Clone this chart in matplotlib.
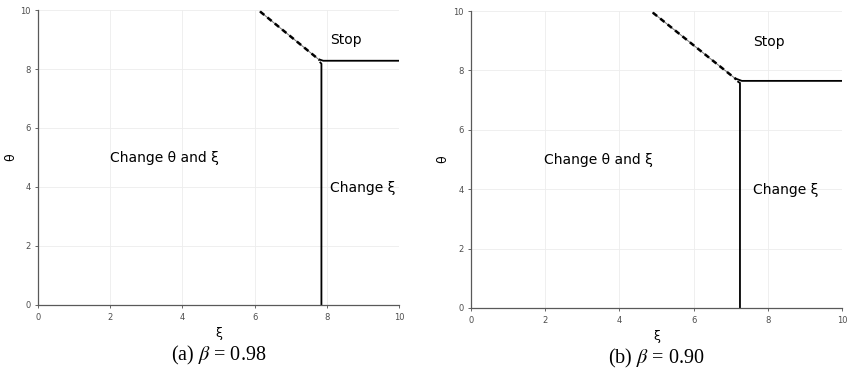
import matplotlib
matplotlib.use("Agg")
import matplotlib.pyplot as plt

plt.rcParams['font.family'] = 'DejaVu Sans'
plt.rcParams['mathtext.fontset'] = 'stix'

# boundary curves for the two discount factors
panels = ["(a)", "(b)"]
betas = ["0.98", "0.90"]
# dashed part of the stopping boundary (xi, theta)
dash_xi = [[6.15, 7.8], [4.9, 7.15]]
dash_theta = [[9.95, 8.3], [9.95, 7.7]]
# horizontal part of the stopping boundary
stop_xi = [[7.8, 7.9, 10.0], [7.15, 7.3, 10.0]]
stop_theta = [[8.32, 8.28, 8.28], [7.72, 7.65, 7.65]]
# vertical boundary between change-both and change-xi
vert_xi = [[7.82, 7.85, 7.85], [7.2, 7.25, 7.25]]
vert_theta = [[8.22, 8.18, 0.0], [7.62, 7.58, 0.0]]

# label positions
stop_pos = [(8.1, 9.0), (7.6, 8.95)]
both_pos = [(2.0, 4.98), (1.97, 4.98)]
xi_pos = [(8.1, 3.97), (7.6, 3.97)]

fig = plt.figure(figsize=(8.51, 3.71), dpi=100)
rects = [[0.0447, 0.178, 0.4242, 0.795], [0.5535, 0.170, 0.4359, 0.800]]
ylab_x = [-0.058, -0.058]

for i in range(2):
    ax = fig.add_axes(rects[i])
    ax.plot(dash_xi[i], dash_theta[i], color='0.45', lw=0.7, zorder=2)
    ax.plot(dash_xi[i], dash_theta[i], color='black', lw=1.8, ls=(0, (2.2, 1.6)), zorder=3)
    ax.plot(stop_xi[i], stop_theta[i], color='black', lw=1.3)
    ax.plot(vert_xi[i], vert_theta[i], color='black', lw=1.3)
    ax.text(stop_pos[i][0], stop_pos[i][1], "Stop", fontsize=10, va='center')
    ax.text(both_pos[i][0], both_pos[i][1], "Change θ and ξ", fontsize=10, va='center')
    ax.text(xi_pos[i][0], xi_pos[i][1], "Change ξ", fontsize=10, va='center')
    ax.set_xlim(0, 10)
    ax.set_ylim(0, 10)
    ax.set_xticks([0, 2, 4, 6, 8, 10])
    ax.set_yticks([0, 2, 4, 6, 8, 10])
    ax.tick_params(labelsize=6, colors='0.3', length=2, width=0.6)
    ax.grid(True, color='0.93', lw=0.6)
    for s in ['top', 'right']:
        ax.spines[s].set_visible(False)
    for s in ['left', 'bottom']:
        ax.spines[s].set_color('0.35')
        ax.spines[s].set_linewidth(0.9)
    ax.set_xlabel("ξ", fontsize=9, labelpad=4)
    ax.set_ylabel("θ", fontsize=9)
    ax.yaxis.set_label_coords(ylab_x[i], 0.5)
    ax.text(0.5, -0.17, panels[i] + r" $\beta$ = " + betas[i], transform=ax.transAxes,
            ha='center', va='center', fontsize=14.5, family='Liberation Serif')

fig.savefig("out.png", dpi=100)
